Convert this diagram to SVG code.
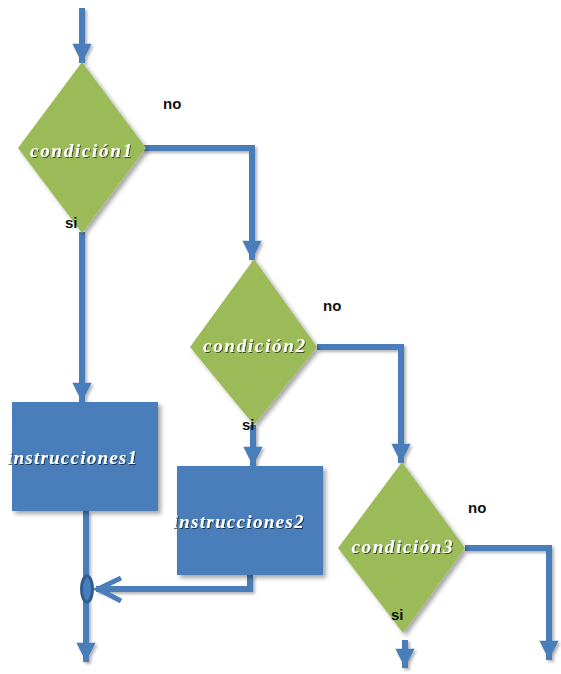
<svg xmlns="http://www.w3.org/2000/svg" width="561" height="674" viewBox="0 0 561 674">
<style>
.dia{fill:#9BBB59;filter:url(#sh)}
.box{fill:#4A7EBB;filter:url(#sh)}
.con{fill:none;stroke:#4A7EBB;stroke-width:6;stroke-linejoin:miter;filter:url(#sh2)}
.arr{marker-end:url(#ah)}
.lbl{font-family:"Liberation Serif",serif;font-style:italic;font-weight:bold;font-size:19px;fill:#ffffff;text-anchor:middle;filter:url(#tsh)}
.yn{font-family:"Liberation Sans",Arial,sans-serif;font-weight:bold;font-size:15px;fill:#111111}
</style>
<defs>
<filter id="sh" x="-20%" y="-20%" width="150%" height="150%"><feDropShadow dx="3" dy="3" stdDeviation="2" flood-color="#000" flood-opacity="0.35"/></filter>
<filter id="sh2" filterUnits="userSpaceOnUse" x="0" y="0" width="561" height="674"><feDropShadow dx="2" dy="2" stdDeviation="1.5" flood-color="#000" flood-opacity="0.3"/></filter>
<filter id="tsh" x="-10%" y="-30%" width="120%" height="160%"><feDropShadow dx="1" dy="1" stdDeviation="0.6" flood-color="#000" flood-opacity="0.6"/></filter>
<marker id="ah" viewBox="0 0 10 10" markerWidth="3.4" markerHeight="3.2" refX="10" refY="5" orient="auto"><path d="M0,0 L10,5 L0,10 z" fill="#4A7EBB"/></marker>
</defs>
<g id="connectors">
<path class="con arr" d="M82,8 V63"/>
<path class="con arr" d="M143,148 H252 V260"/>
<path class="con arr" d="M82,232 V402"/>
<path class="con arr" d="M317,347 H401 V463"/>
<path class="con arr" d="M253,425 V466"/>
<path class="con arr" d="M465,548 H549 V660"/>
<path class="con arr" d="M405,640 V668"/>
<path class="con arr" d="M86,511 V662"/>
<path class="con" d="M250,575 V589 H96"/>
<path d="M121,578 L98,589 L121,601" fill="none" stroke="#4A7EBB" stroke-width="5" stroke-linejoin="miter"/>
<ellipse cx="87" cy="589" rx="5.5" ry="13" fill="#4A7EBB" stroke="#2F5C8F" stroke-width="3"/>
</g>
<g id="cond1">
<polygon class="dia" points="82,62 146,148 82,233 18,148"/>
<text class="lbl" x="81" y="157" textLength="102" lengthAdjust="spacing">condición1</text>
</g>
<g id="cond2">
<polygon class="dia" points="254,259 317,347 254,425 190,347"/>
<text class="lbl" x="254" y="352" textLength="102" lengthAdjust="spacing">condición2</text>
</g>
<g id="cond3">
<polygon class="dia" points="402,462 465,548 403,633 338,548"/>
<text class="lbl" x="402" y="553" textLength="101" lengthAdjust="spacing">condición3</text>
</g>
<g id="instr1">
<rect class="box" x="12" y="402" width="146" height="109"/>
<text class="lbl" x="72" y="464" textLength="130" lengthAdjust="spacing">instrucciones1</text>
</g>
<g id="instr2">
<rect class="box" x="177" y="466" width="146" height="109"/>
<text class="lbl" x="238" y="528" textLength="131" lengthAdjust="spacing">instrucciones2</text>
</g>
<g id="labels">
<text class="yn" x="163" y="109">no</text>
<text class="yn" x="65" y="228">si</text>
<text class="yn" x="323" y="311">no</text>
<text class="yn" x="242" y="430">si</text>
<text class="yn" x="468" y="513">no</text>
<text class="yn" x="391" y="620">si</text>
</g>
</svg>
